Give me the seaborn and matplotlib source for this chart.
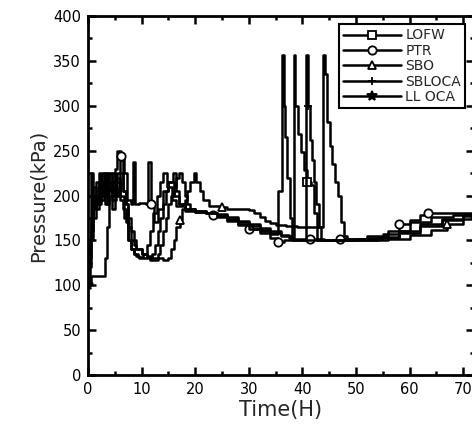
import matplotlib
matplotlib.use("Agg")
import matplotlib.pyplot as plt
import numpy as np
import pandas as pd
import seaborn as sns
from matplotlib.ticker import MultipleLocator

# ---- data ----
LABELS = ["LOFW", "PTR", "SBO", "SBLOCA", "LL OCA"]

lofw_t = [0, 0.5, 1.0, 1.5, 2.0, 2.5, 3.0, 3.5, 4.0, 4.5, 5.0, 5.5, 6.0, 6.5, 7.0, 7.5,
          8.0, 8.5, 9.0, 10, 11, 11.5, 12.5, 13, 13.5, 14, 14.5, 15, 15.5, 16, 16.5, 17,
          17.5, 18, 18.5, 19, 20, 22, 24, 26, 28, 30, 32, 34, 36, 37.5, 38.4, 38.7, 39.2,
          39.7, 40.3, 40.9, 41.6, 42.2, 42.8, 46, 50, 54, 58, 62, 66, 70, 72]
lofw_p = [130, 160, 200, 185, 210, 195, 225, 205, 225, 200, 215, 225, 240, 205, 190, 165,
          150, 145, 140, 135, 132, 128, 128, 135, 145, 160, 175, 190, 200, 210, 220, 225,
          215, 200, 190, 185, 183, 181, 179, 176, 172, 168, 164, 160, 156, 153, 356, 300, 268,
          248, 228, 215, 212, 180, 150, 150, 151, 154, 160, 168, 174, 178, 179]

ptr_t = [0, 0.5, 1, 1.5, 2, 2.5, 3, 3.5, 4, 4.5, 5, 5.5, 6.2, 6.8, 7.2, 8, 8.4, 8.7, 9.5,
         10.8, 11.1, 11.8, 12.3, 13, 14, 15, 16, 17, 18, 20, 22, 23.3, 24, 26, 28, 30, 32,
         34, 35.5, 36.5, 38, 41.4, 44, 47, 50, 52.5, 55, 58, 60, 62, 63.5, 66, 69, 72]
ptr_p = [120, 150, 185, 200, 190, 215, 200, 225, 205, 215, 230, 250, 244, 225, 195, 190,
         237, 190, 192, 190, 237, 190, 171, 185, 205, 215, 200, 190, 185, 183, 180, 178,
         176, 172, 167, 163, 158, 153, 148, 150, 150, 152, 150, 151, 151, 153, 157, 168,
         173, 178, 181, 180, 180, 180]

sbo_t = [0, 0.5, 3.2, 3.6, 4.0, 4.5, 5.0, 5.5, 6.0, 6.5, 7.0, 7.5, 8.0, 8.5, 9, 10, 11, 12,
         13, 14, 15, 15.5, 16, 16.5, 17.2, 17.5, 18, 18.5, 19, 19.7, 20.2, 20.8, 21.5, 22.5,
         25, 26, 28, 30, 31, 32, 33, 34, 35, 37, 39, 42, 43.9, 44.2, 44.6, 45.1, 45.6, 46.1,
         46.6, 47.2, 47.8, 48.4, 52, 56, 60, 64, 67, 70, 72]
sbo_p = [100, 110, 130, 165, 200, 185, 210, 200, 225, 205, 190, 175, 160, 150, 140, 135,
         133, 130, 130, 128, 130, 140, 150, 165, 173, 185, 195, 205, 215, 225, 215, 205, 195,
         188, 187, 185, 185, 184, 180, 176, 172, 169, 167, 166, 165, 165, 356, 335, 282, 255,
         235, 215, 200, 170, 155, 150, 150, 152, 156, 162, 168, 174, 178]

sbloca_t = [0, 0.5, 1, 1.5, 2, 2.5, 3, 3.5, 4, 4.5, 5, 5.5, 6, 6.5, 7, 7.5, 8, 8.5, 9, 9.5,
            10.5, 12, 12.5, 13, 13.5, 14, 14.5, 15, 15.8, 16.5, 17, 18, 20, 22, 24, 26, 28,
            30, 32, 34, 36, 38, 40.5, 40.7, 41.0, 41.4, 41.8, 42.2, 42.6, 43.0, 43.5, 46,
            50, 54, 58, 62, 66, 70, 72]
sbloca_p = [150, 175, 210, 190, 225, 200, 215, 190, 210, 225, 200, 215, 195, 185, 170, 150,
            140, 135, 133, 130, 130, 135, 145, 160, 175, 190, 205, 215, 225, 205, 190, 185,
            182, 180, 177, 174, 170, 166, 162, 158, 155, 152, 152, 356, 300, 262, 240, 215,
            190, 165, 150, 150, 150, 153, 158, 166, 173, 177, 179]

lloca_t = [0, 0.3, 0.6, 1.0, 1.4, 2.0, 2.6, 3.2, 3.8, 4.5, 5.2, 6.0, 6.8, 7.4, 8.0, 8.6,
           9.4, 10.2, 11.0, 11.6, 12.2, 12.8, 13.4, 14.0, 14.8, 15.6, 16.5, 18, 20, 22, 24,
           26, 28, 30, 32, 34, 35.5, 36.2, 36.5, 36.8, 37.2, 37.6, 38.0, 40, 44, 48, 52, 56,
           60, 64, 68, 72]
lloca_p = [100, 150, 225, 175, 215, 200, 225, 190, 215, 195, 220, 200, 175, 150, 140, 135,
           132, 135, 145, 160, 180, 200, 215, 225, 210, 195, 188, 183, 182, 180, 178, 173,
           168, 163, 160, 157, 205, 356, 300, 265, 220, 175, 150, 150, 150, 152, 155, 160,
           170, 176, 178, 180]

SERIES = [(lofw_t, lofw_p), (ptr_t, ptr_p), (sbo_t, sbo_p), (sbloca_t, sbloca_p),
          (lloca_t, lloca_p)]

# ---- style ----
MARKERS = ["s", "o", "^", "+", "*"]
MARK_AT = {  # times at which the sparse markers sit
    "LOFW": [40.9],
    "PTR": [6.2, 11.8, 23.3, 30, 35.5, 41.4, 47, 58, 63.5],
    "SBO": [17.2, 25, 67],
    "SBLOCA": [41.0],
    "LL OCA": [0],
}

sns.set_style("ticks")
plt.rcParams["font.family"] = ["DejaVu Sans"]

fig = plt.figure(figsize=(4.72, 4.26), dpi=100)
ax = fig.add_axes([88 / 472, 1 - 375 / 426, 386 / 472, 359 / 426])

for lab, mk, (t, p) in zip(LABELS, MARKERS, SERIES):
    df = pd.DataFrame({"t": t, "p": p})
    idx = [int(np.argmin(np.abs(np.array(t) - m))) for m in MARK_AT[lab]]
    sns.lineplot(data=df, x="t", y="p", ax=ax, color="black", lw=1.8,
                 drawstyle="steps-post", estimator=None, sort=False,
                 marker=mk, markevery=idx, ms=6 if mk != "*" else 7,
                 mfc="white" if mk not in ("+", "*") else "black",
                 mec="black", mew=1.3, label=lab)

ax.set_xlim(0, 72)
ax.set_ylim(0, 400)
ax.xaxis.set_major_locator(MultipleLocator(10))
ax.xaxis.set_minor_locator(MultipleLocator(5))
ax.yaxis.set_major_locator(MultipleLocator(50))
ax.yaxis.set_minor_locator(MultipleLocator(25))
ax.tick_params(which="both", direction="in", top=True, right=True, width=1.8,
               labelsize=10.5, colors="black", pad=5)
ax.tick_params(which="major", length=6)
ax.tick_params(which="minor", length=3)
for s in ax.spines.values():
    s.set_linewidth(2)
    s.set_color("black")

ax.set_xlabel("Time(H)", fontsize=15, labelpad=2)
ax.set_ylabel("Pressure(kPa)", fontsize=14, labelpad=4)

leg = ax.legend(loc="upper right", bbox_to_anchor=(0.977, 0.977), fontsize=10,
                frameon=True, fancybox=False, edgecolor="black", framealpha=1,
                handlelength=4.2, handletextpad=0.3, labelspacing=0.1,
                borderpad=0.3, borderaxespad=0)
leg.get_frame().set_linewidth(1.5)

fig.savefig("out.png", dpi=100)
